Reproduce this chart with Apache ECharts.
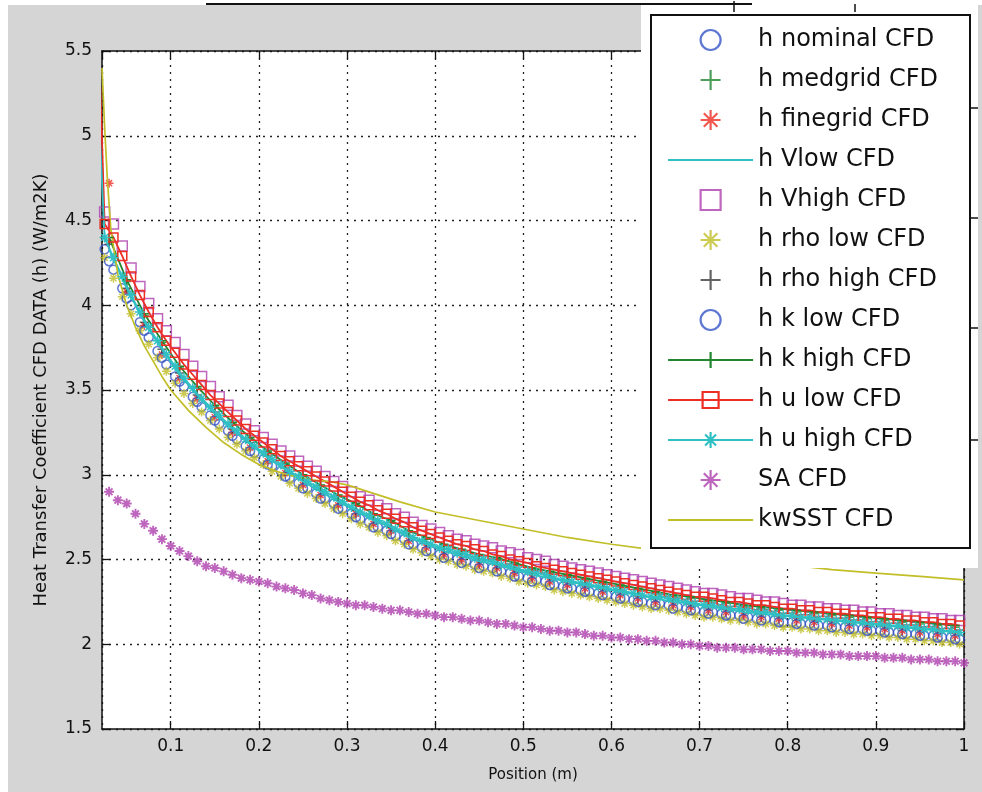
<!DOCTYPE html>
<html>
<head>
<meta charset="utf-8">
<script src="https://cdn.jsdelivr.net/npm/echarts@6/dist/echarts.min.js"></script>
<style>
html,body{margin:0;padding:0;background:#fff;}
#chart{width:982px;height:792px;}
</style>
</head>
<body>
<div id="chart"></div>
<script>
// positions (m)
var posA = [0.025,0.035,0.045,0.055,0.065,0.075,0.085,0.095,0.105,0.115,0.125,0.135,0.145,0.155,0.165,0.175,0.185,0.195,0.205,0.215,0.225,0.235,0.245,0.255,0.265,0.275,0.285,0.295,
  0.305,0.315,0.325,0.335,0.345,0.355,0.365,0.375,0.385,0.395,0.405,0.415,0.425,0.435,0.445,0.455,0.465,0.475,0.485,0.495,
  0.505,0.515,0.525,0.535,0.545,0.555,0.565,0.575,0.585,0.595,0.605,0.615,0.625,0.635,0.645,0.655,0.665,0.675,0.685,0.695,
  0.705,0.715,0.725,0.735,0.745,0.755,0.765,0.775,0.785,0.795,0.805,0.815,0.825,0.835,0.845,0.855,0.865,0.875,0.885,0.895,
  0.905,0.915,0.925,0.935,0.945,0.955,0.965,0.975,0.985,0.995];
var posB = [0.03,0.05,0.07,0.09,0.11,0.13,0.15,0.17,0.19,0.21,0.23,0.25,0.27,0.29,0.31,0.33,0.35,0.37,0.39,0.41,0.43,0.45,0.47,0.49,
  0.51,0.53,0.55,0.57,0.59,0.61,0.63,0.65,0.67,0.69,0.71,0.73,0.75,0.77,0.79,0.81,0.83,0.85,0.87,0.89,0.91,0.93,0.95,0.97,0.99];
var posS = [0.03,0.04,0.05,0.06,0.07,0.08,0.09,0.10,0.11,0.12,0.13,0.14,0.15,0.16,0.17,0.18,0.19,0.20,0.21,0.22,0.23,0.24,0.25,0.26,0.27,0.28,0.29,0.30,
  0.31,0.32,0.33,0.34,0.35,0.36,0.37,0.38,0.39,0.40,0.41,0.42,0.43,0.44,0.45,0.46,0.47,0.48,0.49,0.50,
  0.51,0.52,0.53,0.54,0.55,0.56,0.57,0.58,0.59,0.60,0.61,0.62,0.63,0.64,0.65,0.66,0.67,0.68,0.69,0.70,
  0.71,0.72,0.73,0.74,0.75,0.76,0.77,0.78,0.79,0.80,0.81,0.82,0.83,0.84,0.85,0.86,0.87,0.88,0.89,0.90,
  0.91,0.92,0.93,0.94,0.95,0.96,0.97,0.98,0.99,1.00];
var posK = [0.022,0.025,0.028,0.032,0.04,0.05,0.06,0.07,0.08,0.09,0.10,0.12,0.14,0.16,0.18,0.20,0.22,0.24,0.26,0.28,0.30,0.33,0.36,0.40,
  0.45,0.50,0.55,0.60,0.65,0.70,0.75,0.80,0.85,0.90,0.95,1.00];
var posLead = [0.02];

// heat transfer coefficient (W/m2K)
var hNominal = [4.33,4.21,4.10,4.00,3.90,3.81,3.73,3.65,3.58,3.52,3.46,3.40,3.35,3.30,3.26,3.21,3.17,3.13,3.09,3.05,3.02,2.98,2.95,2.92,2.89,2.86,2.83,2.80,
  2.77,2.74,2.72,2.69,2.67,2.64,2.62,2.59,2.57,2.55,2.53,2.52,2.50,2.49,2.47,2.46,2.45,2.43,2.42,2.40,
  2.39,2.38,2.37,2.35,2.34,2.33,2.32,2.31,2.30,2.29,2.28,2.27,2.26,2.25,2.24,2.24,2.23,2.22,2.21,2.20,
  2.19,2.19,2.18,2.17,2.17,2.16,2.15,2.15,2.14,2.13,2.13,2.12,2.12,2.11,2.11,2.10,2.10,2.09,2.09,2.08,
  2.08,2.07,2.07,2.06,2.06,2.05,2.05,2.04,2.04,2.03];
var hMedgrid = [4.38,4.14,3.94,3.78,3.63,3.51,3.40,3.30,3.21,3.13,3.06,2.99,2.93,2.87,2.82,2.76,2.72,2.66,2.62,2.58,2.55,2.52,2.50,2.47,
  2.44,2.42,2.40,2.38,2.36,2.34,2.32,2.30,2.28,2.27,2.25,2.24,2.22,2.21,2.20,2.19,2.18,2.17,2.16,2.15,2.14,2.13,2.12,2.11,2.10];
var hFinegrid = [4.72,4.08,3.88,3.71,3.57,3.45,3.34,3.25,3.16,3.08,3.01,2.94,2.88,2.82,2.77,2.71,2.67,2.61,2.57,2.53,2.50,2.47,2.45,2.42,
  2.39,2.37,2.35,2.33,2.31,2.29,2.27,2.25,2.23,2.22,2.20,2.19,2.17,2.16,2.15,2.14,2.13,2.12,2.11,2.10,2.09,2.08,2.07,2.06,2.05];
var hVlow = [4.33,4.10,3.90,3.74,3.59,3.47,3.36,3.27,3.18,3.10,3.03,2.96,2.90,2.84,2.79,2.73,2.69,2.63,2.59,2.55,2.52,2.49,2.47,2.44,
  2.41,2.39,2.37,2.35,2.33,2.31,2.29,2.27,2.25,2.24,2.22,2.21,2.19,2.18,2.17,2.16,2.15,2.14,2.13,2.12,2.11,2.10,2.09,2.08,2.07];
var hVhigh = [4.55,4.48,4.35,4.22,4.11,4.01,3.92,3.85,3.78,3.71,3.64,3.58,3.52,3.46,3.41,3.35,3.30,3.26,3.22,3.18,3.14,3.11,3.08,3.05,3.02,2.99,2.96,2.93,
  2.90,2.87,2.85,2.82,2.80,2.77,2.75,2.72,2.70,2.68,2.66,2.64,2.62,2.61,2.59,2.58,2.57,2.55,2.54,2.53,
  2.51,2.50,2.49,2.47,2.46,2.45,2.44,2.43,2.42,2.41,2.40,2.39,2.38,2.37,2.36,2.35,2.34,2.33,2.32,2.31,
  2.30,2.30,2.29,2.28,2.27,2.27,2.26,2.25,2.25,2.24,2.23,2.23,2.22,2.22,2.21,2.21,2.20,2.20,2.19,2.19,
  2.18,2.18,2.17,2.17,2.16,2.16,2.15,2.15,2.14,2.14];
var hRhoLow = [4.28,4.16,4.05,3.95,3.85,3.77,3.69,3.61,3.54,3.48,3.42,3.37,3.32,3.27,3.22,3.18,3.14,3.10,3.06,3.02,2.99,2.95,2.92,2.89,2.86,2.83,2.80,2.77,
  2.74,2.71,2.69,2.66,2.64,2.61,2.59,2.56,2.54,2.52,2.50,2.49,2.47,2.46,2.44,2.43,2.42,2.40,2.39,2.37,
  2.36,2.35,2.34,2.32,2.31,2.30,2.29,2.28,2.27,2.26,2.25,2.24,2.23,2.22,2.21,2.21,2.20,2.19,2.18,2.17,
  2.16,2.16,2.15,2.14,2.14,2.13,2.12,2.12,2.11,2.10,2.10,2.09,2.09,2.08,2.08,2.07,2.07,2.06,2.06,2.05,
  2.05,2.04,2.04,2.03,2.03,2.02,2.02,2.01,2.01,2.00];
var hRhoHigh = [4.36,4.10,3.90,3.74,3.60,3.47,3.37,3.27,3.19,3.11,3.04,2.97,2.91,2.85,2.79,2.74,2.69,2.64,2.60,2.56,2.53,2.50,2.47,2.45,
  2.42,2.40,2.38,2.36,2.34,2.32,2.30,2.28,2.26,2.25,2.23,2.22,2.20,2.19,2.18,2.17,2.16,2.15,2.14,2.13,2.12,2.11,2.10,2.09,2.08];
var hKLow = [4.26,4.04,3.85,3.69,3.55,3.43,3.32,3.23,3.14,3.06,2.99,2.92,2.86,2.80,2.75,2.69,2.65,2.59,2.55,2.51,2.48,2.45,2.43,2.40,
  2.37,2.35,2.33,2.31,2.29,2.27,2.25,2.23,2.21,2.20,2.18,2.17,2.15,2.14,2.13,2.12,2.11,2.10,2.09,2.08,2.07,2.06,2.05,2.04,2.03];
var hKHigh = [4.40,4.15,3.95,3.79,3.64,3.52,3.41,3.31,3.22,3.14,3.07,3.00,2.94,2.88,2.83,2.77,2.73,2.67,2.63,2.59,2.56,2.53,2.51,2.48,
  2.45,2.43,2.41,2.39,2.37,2.35,2.33,2.31,2.29,2.28,2.26,2.25,2.23,2.22,2.21,2.20,2.19,2.18,2.17,2.16,2.15,2.14,2.13,2.12,2.11];
var hULow = [4.48,4.40,4.29,4.17,4.06,3.96,3.87,3.79,3.72,3.65,3.59,3.53,3.47,3.42,3.37,3.32,3.27,3.23,3.19,3.15,3.11,3.08,3.05,3.02,2.99,2.96,2.93,2.90,
  2.87,2.84,2.82,2.79,2.77,2.74,2.72,2.69,2.67,2.65,2.63,2.61,2.59,2.58,2.56,2.55,2.53,2.52,2.50,2.49,
  2.48,2.46,2.45,2.44,2.43,2.42,2.41,2.40,2.39,2.38,2.37,2.36,2.35,2.34,2.33,2.32,2.31,2.30,2.29,2.28,
  2.28,2.27,2.26,2.25,2.25,2.24,2.23,2.23,2.22,2.21,2.21,2.20,2.20,2.19,2.19,2.18,2.18,2.17,2.17,2.16,
  2.16,2.15,2.15,2.14,2.14,2.13,2.13,2.12,2.12,2.11];
var hUHigh = [4.40,4.28,4.17,4.06,3.96,3.87,3.79,3.71,3.64,3.57,3.51,3.45,3.40,3.35,3.30,3.26,3.21,3.17,3.13,3.09,3.06,3.02,2.99,2.96,2.93,2.90,2.87,2.84,
  2.81,2.78,2.76,2.73,2.71,2.68,2.66,2.63,2.61,2.59,2.57,2.56,2.54,2.53,2.51,2.50,2.49,2.47,2.46,2.44,
  2.43,2.42,2.41,2.39,2.38,2.37,2.36,2.35,2.34,2.33,2.32,2.31,2.30,2.29,2.28,2.28,2.27,2.26,2.25,2.24,
  2.23,2.23,2.22,2.21,2.21,2.20,2.19,2.19,2.18,2.17,2.17,2.16,2.16,2.15,2.15,2.14,2.14,2.13,2.13,2.12,
  2.12,2.11,2.11,2.10,2.10,2.09,2.09,2.08,2.08,2.07];
var hSA = [2.90,2.85,2.83,2.77,2.71,2.67,2.62,2.58,2.55,2.52,2.49,2.46,2.45,2.43,2.41,2.39,2.38,2.37,2.36,2.34,2.33,2.32,2.30,2.29,2.27,2.26,2.25,2.24,
  2.23,2.23,2.22,2.21,2.20,2.20,2.19,2.18,2.18,2.17,2.16,2.16,2.15,2.14,2.14,2.13,2.12,2.12,2.11,2.10,
  2.10,2.09,2.08,2.08,2.07,2.07,2.06,2.05,2.05,2.04,2.04,2.03,2.03,2.02,2.02,2.01,2.01,2.00,2.00,1.99,
  1.99,1.98,1.98,1.98,1.97,1.97,1.97,1.96,1.96,1.96,1.95,1.95,1.95,1.94,1.94,1.94,1.93,1.93,1.93,1.93,
  1.92,1.92,1.92,1.91,1.91,1.91,1.90,1.90,1.90,1.89];
var hKwSST = [5.40,5.05,4.75,4.45,4.18,4.00,3.87,3.76,3.67,3.58,3.50,3.38,3.28,3.19,3.12,3.06,3.02,2.99,2.97,2.96,2.94,2.89,2.84,2.78,
  2.73,2.68,2.63,2.59,2.555,2.525,2.495,2.47,2.44,2.42,2.40,2.38];
var uLowLead = [5.30];
var uHighLead = [4.95];

var seriesNames = ['h nominal CFD','h medgrid CFD','h finegrid CFD','h Vlow CFD','h Vhigh CFD','h rho low CFD','h rho high CFD',
  'h k low CFD','h k high CFD','h u low CFD','h u high CFD','SA CFD','kwSST CFD'];

var BLUE = '#3454c4', GREEN = '#22862f', RED = '#ec2e24', CYAN = '#30c0c4',
    PURPLE = '#ae40ae', OLIVE = '#c2be28', DARK = '#3c3c3c';
var PLUS = 'path://M0,5L10,5M5,0L5,10';
var STAR = 'path://M0,5L10,5M5,0L5,10M1.6,1.6L8.4,8.4M8.4,1.6L1.6,8.4';
var SQUARE = 'path://M0,0L10,0L10,10L0,10Z';
var FONT = 'DejaVu Sans';

function pairs(xs, ys) {
  return xs.map(function (x, i) { return [x, ys[i]]; });
}

//只画标记
function markers(name, data, symbol, color, size, bw) {
  return {
    name: name, type: 'scatter', data: data, symbol: symbol, symbolSize: size || 9,
    itemStyle: { color: 'rgba(0,0,0,0)', borderColor: color, borderWidth: bw || 1.5 },
    silent: true
  };
}
//线加标记
function lineMarkers(name, data, symbol, color, size) {
  return {
    name: name, type: 'line', data: data, symbol: symbol, symbolSize: size || 9, showSymbol: true,
    lineStyle: { color: color, width: 1.8 },
    itemStyle: { color: 'rgba(0,0,0,0)', borderColor: color, borderWidth: 1.5 },
    silent: true
  };
}
//只画线
function plainLine(name, data, color) {
  return {
    name: name, type: 'line', data: data, symbol: 'none',
    lineStyle: { color: color, width: 1.7 }, itemStyle: { color: color },
    silent: true
  };
}

var lineIcon = 'path://M0,0L85,0L85,2.2L0,2.2Z';
var legendData = seriesNames.map(function (n) {
  if (n === 'h Vlow CFD' || n === 'kwSST CFD') return { name: n, icon: lineIcon };
  return { name: n };
});

var axisFont = { fontSize: 17, fontFamily: FONT, color: '#111' };

var myChart = echarts.init(document.getElementById('chart'));
var option = {
  animation: false,
  backgroundColor: '#d5d5d5',
  grid: { left: 102, right: 18, top: 51, bottom: 63, show: true, backgroundColor: '#fff', borderWidth: 0 },
  legend: {
    data: legendData,
    orient: 'vertical',
    left: 667, top: 27,
    padding: 0,
    itemWidth: 85, itemHeight: 20, itemGap: 14,
    selectedMode: false,
    z: 10,
    textStyle: { fontSize: 24, fontFamily: FONT, color: '#111', lineHeight: 26 },
    itemStyle: { borderWidth: 2.2 },
    lineStyle: { width: 2.2 }
  },
  xAxis: [{
    type: 'value', min: 0.022, max: 1, splitNumber: 10,
    axisLine: { onZero: false, lineStyle: { color: '#111', width: 1.5 } },
    axisTick: { inside: true, length: 8, lineStyle: { color: '#111', width: 1.3 } },
    axisLabel: Object.assign({ showMinLabel: false, margin: 9 }, axisFont),
    splitLine: { show: true, lineStyle: { color: '#222', type: [2, 5], width: 1.3 } },
    name: 'Position (m)', nameLocation: 'middle', nameGap: 39,
    nameTextStyle: { fontSize: 15, fontFamily: FONT, color: '#111' }
  }, {
    type: 'value', position: 'top', min: 0.022, max: 1, splitNumber: 10,
    axisLine: { onZero: false, lineStyle: { color: '#111', width: 1.5 } },
    axisTick: { inside: true, length: 8, lineStyle: { color: '#111', width: 1.3 } },
    axisLabel: { show: false }, splitLine: { show: false }
  }],
  yAxis: [{
    type: 'value', min: 1.5, max: 5.5, interval: 0.5,
    axisLine: { show: true, onZero: false, lineStyle: { color: '#111', width: 1.5 } },
    axisTick: { show: true, inside: true, length: 8, lineStyle: { color: '#111', width: 1.3 } },
    axisLabel: Object.assign({ margin: 10 }, axisFont),
    splitLine: { show: true, lineStyle: { color: '#222', type: [2, 5], width: 1.3 } },
    name: 'Heat Transfer Coefficient CFD DATA (h) (W/m2K)', nameLocation: 'middle', nameGap: 52,
    nameTextStyle: { fontSize: 18, fontFamily: FONT, color: '#111' }
  }, {
    type: 'value', position: 'right', min: 1.5, max: 5.5, interval: 0.5,
    axisLine: { show: true, onZero: false, lineStyle: { color: '#111', width: 1.5 } },
    axisTick: { show: true, inside: true, length: 8, lineStyle: { color: '#111', width: 1.3 } },
    axisLabel: { show: false }, splitLine: { show: false }
  }],
  graphic: [
    { type: 'rect', shape: { x: 0, y: 0, width: 982, height: 5 }, style: { fill: '#fff' }, z: 1 },
    { type: 'rect', shape: { x: 0, y: 0, width: 8, height: 792 }, style: { fill: '#fff' }, z: 1 },
    { type: 'line', shape: { x1: 206, y1: 4, x2: 752, y2: 4 }, style: { stroke: '#111', lineWidth: 2 }, z: 6 },
    { type: 'rect', shape: { x: 641, y: 0, width: 337, height: 568 }, style: { fill: '#fff' }, z: 5 },
    { type: 'rect', shape: { x: 651, y: 15, width: 319, height: 533 }, style: { fill: '#fff', stroke: '#111', lineWidth: 2 }, z: 6 },
    { type: 'line', shape: { x1: 734, y1: 1, x2: 734, y2: 12 }, style: { stroke: '#111', lineWidth: 1.5 }, z: 6 },
    { type: 'line', shape: { x1: 855, y1: 4, x2: 855, y2: 12 }, style: { stroke: '#111', lineWidth: 1.5 }, z: 6 },
    { type: 'line', shape: { x1: 970, y1: 108, x2: 978, y2: 108 }, style: { stroke: '#111', lineWidth: 1.5 }, z: 6 },
    { type: 'line', shape: { x1: 970, y1: 218, x2: 978, y2: 218 }, style: { stroke: '#111', lineWidth: 1.5 }, z: 6 },
    { type: 'line', shape: { x1: 970, y1: 328, x2: 978, y2: 328 }, style: { stroke: '#111', lineWidth: 1.5 }, z: 6 },
    { type: 'line', shape: { x1: 970, y1: 440, x2: 978, y2: 440 }, style: { stroke: '#111', lineWidth: 1.5 }, z: 6 }
  ],
  series: [
    markers(seriesNames[0], pairs(posA, hNominal), 'circle', BLUE, 9),
    markers(seriesNames[1], pairs(posB, hMedgrid), PLUS, GREEN, 9),
    markers(seriesNames[2], pairs(posB, hFinegrid), STAR, RED, 9),
    plainLine(seriesNames[3], pairs(posB, hVlow), CYAN),
    markers(seriesNames[4], pairs(posA, hVhigh), SQUARE, PURPLE, 10),
    markers(seriesNames[5], pairs(posA, hRhoLow), STAR, OLIVE, 9),
    markers(seriesNames[6], pairs(posB, hRhoHigh), PLUS, DARK, 9),
    markers(seriesNames[7], pairs(posB, hKLow), 'circle', BLUE, 9),
    lineMarkers(seriesNames[8], pairs(posB, hKHigh), PLUS, GREEN),
    lineMarkers(seriesNames[9], pairs(posLead, uLowLead).concat(pairs(posA, hULow)), SQUARE, RED),
    lineMarkers(seriesNames[10], pairs(posLead, uHighLead).concat(pairs(posA, hUHigh)), STAR, CYAN, 10),
    markers(seriesNames[11], pairs(posS, hSA), STAR, PURPLE, 10, 1.9),
    plainLine(seriesNames[12], pairs(posK, hKwSST), OLIVE)
  ]
};
myChart.setOption(option);
</script>
</body>
</html>
